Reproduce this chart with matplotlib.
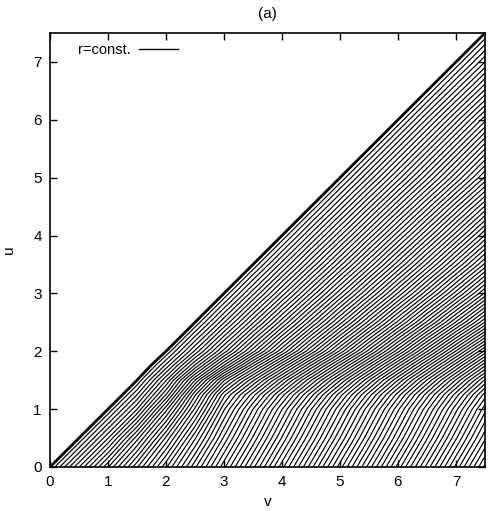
import matplotlib
matplotlib.use("Agg")
import matplotlib.pyplot as plt
from matplotlib.lines import Line2D
import numpy as np

plt.rcParams['font.family'] = ['Liberation Sans', 'DejaVu Sans']

v_nodes = [0, 0.5, 1, 1.5, 2, 2.5, 3, 3.5, 4, 4.5, 5, 5.5, 6, 6.5, 7, 7.5]
u_nodes = [0, 0.5, 1, 1.25, 1.5, 1.75, 2, 2.5, 3, 3.5, 4, 4.5, 5, 5.5, 6, 6.5, 7, 7.5]
nan = np.nan
r_table = [
    [0, 0.25, 0.5, 0.75, 1.0, 1.25, 1.5, 1.75, 2.0, 2.25, 2.5, 2.75, 3.0, 3.25, 3.5, 3.75],
    [-0.25, 0, 0.25, 0.528, 0.807, 1.086, 1.353, 1.603, 1.853, 2.103, 2.353, 2.603, 2.853, 3.103, 3.353, 3.603],
    [nan, -0.25, 0, 0.25, 0.571, 0.891, 1.212, 1.47, 1.72, 1.97, 2.22, 2.47, 2.72, 2.97, 3.22, 3.47],
    [nan, nan, -0.125, 0.125, 0.42, 0.79, 1.12, 1.367, 1.619, 1.87, 2.122, 2.373, 2.625, 2.877, 3.128, 3.38],
    [nan, nan, -0.25, 0, 0.29, 0.63, 0.96, 1.209, 1.463, 1.717, 1.971, 2.225, 2.479, 2.734, 2.988, 3.242],
    [nan, nan, nan, -0.125, 0.14, 0.43, 0.72, 1.003, 1.26, 1.518, 1.775, 2.032, 2.29, 2.547, 2.805, 3.062],
    [nan, nan, nan, -0.25, 0, 0.261, 0.522, 0.783, 1.044, 1.305, 1.565, 1.826, 2.087, 2.348, 2.609, 2.87],
    [nan, nan, nan, nan, -0.25, 0, 0.248, 0.496, 0.744, 0.992, 1.24, 1.488, 1.736, 1.984, 2.232, 2.48],
    [nan, nan, nan, nan, nan, -0.25, 0, 0.239, 0.478, 0.717, 0.956, 1.194, 1.433, 1.672, 1.911, 2.15],
    [nan, nan, nan, nan, nan, nan, -0.25, 0, 0.2325, 0.465, 0.698, 0.93, 1.163, 1.395, 1.628, 1.86],
    [nan, nan, nan, nan, nan, nan, nan, -0.25, 0, 0.229, 0.457, 0.686, 0.914, 1.143, 1.371, 1.60],
    [nan, nan, nan, nan, nan, nan, nan, nan, -0.25, 0, 0.225, 0.45, 0.675, 0.9, 1.125, 1.35],
    [nan, nan, nan, nan, nan, nan, nan, nan, nan, -0.25, 0, 0.22, 0.44, 0.66, 0.88, 1.10],
    [nan, nan, nan, nan, nan, nan, nan, nan, nan, nan, -0.25, 0, 0.22, 0.44, 0.66, 0.88],
    [nan, nan, nan, nan, nan, nan, nan, nan, nan, nan, nan, -0.25, 0, 0.22, 0.44, 0.66],
    [nan, nan, nan, nan, nan, nan, nan, nan, nan, nan, nan, nan, -0.25, 0, 0.215, 0.43],
    [nan, nan, nan, nan, nan, nan, nan, nan, nan, nan, nan, nan, nan, -0.25, 0, 0.21],
    [nan, nan, nan, nan, nan, nan, nan, nan, nan, nan, nan, nan, nan, nan, -0.25, 0],
]
r_step = 0.042
n_lines = 89
ticks = [0, 1, 2, 3, 4, 5, 6, 7]

V, U = np.meshgrid(v_nodes, u_nodes)
R = np.array(r_table)
levels = r_step * np.arange(1, n_lines + 1)

fig = plt.figure(figsize=(4.99, 5.16), dpi=100)
ax = fig.add_axes([0.1002, 0.095, 0.8717, 0.841])

ax.contour(V, U, R, levels=levels, colors='k', linewidths=0.85)
ax.contour(V, U, R, levels=[0], colors='k', linewidths=2.0)

ax.set_xlim(0, 7.5)
ax.set_ylim(0, 7.5)
ax.set_xticks(ticks)
ax.set_yticks(ticks)
ax.tick_params(direction='in', top=True, right=True, length=5, width=1, labelsize=11, pad=6)
for s in ax.spines.values():
    s.set_linewidth(1.2)
ax.set_xlabel('v', fontsize=11, labelpad=4)
ax.set_ylabel('u', fontsize=11, labelpad=12)
ax.set_title('(a)', fontsize=11, pad=11)

proxy = Line2D([], [], color='k', lw=1)
ax.legend([proxy], ['r=const.'], loc='upper left', frameon=False, markerfirst=False,
          handlelength=2.7, handletextpad=0.6, fontsize=10.5, borderaxespad=0.3,
          bbox_to_anchor=(0.04, 1.0))

fig.savefig('out.png', dpi=100)
